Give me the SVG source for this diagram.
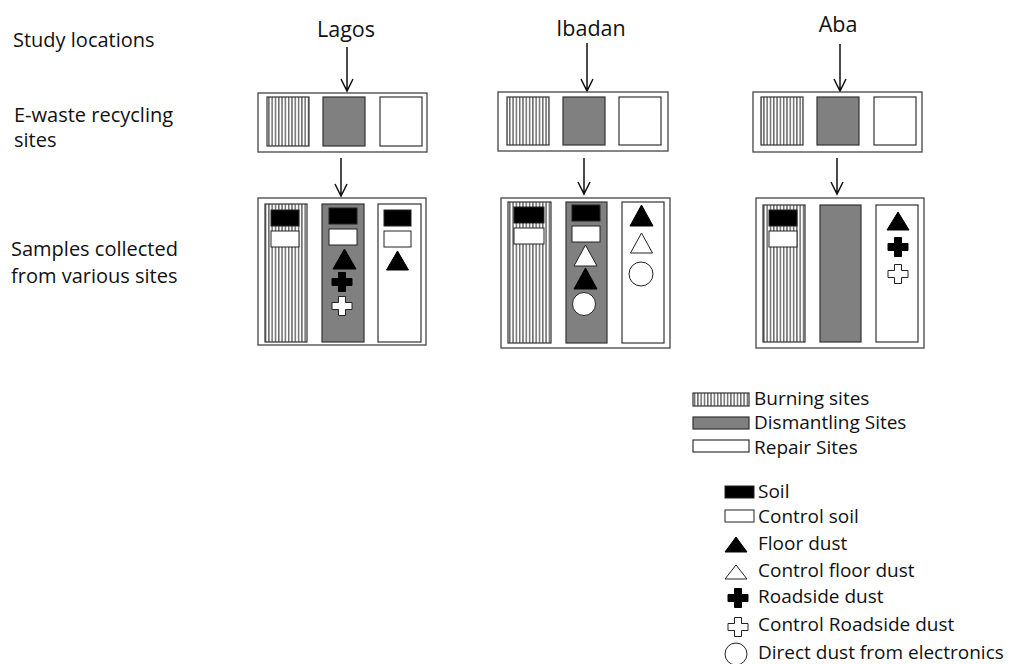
<svg xmlns="http://www.w3.org/2000/svg" width="1015" height="664" viewBox="0 0 1015 664">
<defs>
<pattern id="hatch" patternUnits="userSpaceOnUse" width="3.3" height="10">
<rect width="3.3" height="10" fill="#fff"/>
<line x1="1.6" y1="0" x2="1.6" y2="10" stroke="#222" stroke-width="1"/>
</pattern>
<path id="cross" d="M-3.5,-9.5 h7 v6 h6.5 v7 h-6.5 v6 h-7 v-6 h-6.5 v-7 h6.5 z"/>
</defs>
<style>
text{font-family:"Open Sans","Liberation Sans",sans-serif;fill:#111}
.lbl{font-size:20px}
.loc{font-size:21.5px;text-anchor:middle}
.leg{font-size:19px}
.box{fill:#fff;stroke:#444;stroke-width:1.3}
.h{fill:url(#hatch);stroke:#333;stroke-width:1.2}
.g{fill:#808080;stroke:#333;stroke-width:1.2}
.w{fill:#fff;stroke:#333;stroke-width:1.2}
.b{fill:#000;stroke:#222;stroke-width:1}
.bf{fill:#000;stroke:#000;stroke-width:1}
.wf{fill:#fff;stroke:#222;stroke-width:1}
.arr{fill:none;stroke:#111;stroke-width:1.5}
</style>

<g id="row-labels">
<text class="lbl" x="13" y="47">Study locations</text>
<text class="lbl" x="14" y="122">E-waste recycling</text>
<text class="lbl" x="14" y="147">sites</text>
<text class="lbl" x="11" y="256">Samples collected</text>
<text class="lbl" x="11" y="283">from various sites</text>
</g>

<g id="loc-lagos"><text class="loc" x="346" y="37">Lagos</text></g>
<g id="loc-ibadan"><text class="loc" x="591" y="36">Ibadan</text></g>
<g id="loc-aba"><text class="loc" x="838" y="32">Aba</text></g>

<g id="connectors">
<path class="arr" d="M347,47 V91 M341,79 L347,91 L353,79"/>
<path class="arr" d="M587,43 V91 M581,79 L587,91 L593,79"/>
<path class="arr" d="M840,44 V91 M834,79 L840,91 L846,79"/>
<path class="arr" d="M341,158 V196 M335,184 L341,196 L347,184"/>
<path class="arr" d="M584,158 V194 M578,182 L584,194 L590,182"/>
<path class="arr" d="M837,158 V194 M831,182 L837,194 L843,182"/>
</g>

<g id="sites-lagos">
<rect class="box" x="258" y="93" width="169" height="59"/>
<rect class="h" x="267" y="97" width="42" height="49"/>
<rect class="g" x="323" y="97" width="42" height="49"/>
<rect class="w" x="380" y="97" width="42" height="49"/>
</g>
<g id="sites-ibadan">
<rect class="box" x="498" y="92" width="170" height="59"/>
<rect class="h" x="507" y="97" width="42" height="48"/>
<rect class="g" x="563" y="97" width="42" height="48"/>
<rect class="w" x="619" y="97" width="42" height="48"/>
</g>
<g id="sites-aba">
<rect class="box" x="753" y="92" width="169" height="60"/>
<rect class="h" x="761" y="97" width="42" height="48"/>
<rect class="g" x="817" y="97" width="42" height="48"/>
<rect class="w" x="874" y="97" width="42" height="48"/>
</g>

<g id="samples-lagos">
<rect class="box" x="258" y="198" width="168" height="147"/>
<rect class="h" x="265" y="204" width="42" height="138"/>
<rect class="g" x="322" y="204" width="42" height="138"/>
<rect class="w" x="378" y="204" width="43" height="138"/>
<rect class="b" x="271" y="210" width="28" height="16"/>
<rect class="wf" x="271" y="231" width="28" height="16"/>
<rect class="b" x="329" y="208" width="28" height="16"/>
<rect class="wf" x="329" y="229" width="28" height="16"/>
<polygon class="bf" points="344.5,249 356,269 333,269"/>
<use href="#cross" x="342" y="282" class="bf"/>
<use href="#cross" x="342" y="306" class="wf"/>
<rect class="b" x="384" y="210" width="27" height="16"/>
<rect class="wf" x="384" y="231" width="27" height="16"/>
<polygon class="bf" points="397.5,251 408.5,270 386.5,270"/>
</g>

<g id="samples-ibadan">
<rect class="box" x="501" y="198" width="169" height="150"/>
<rect class="h" x="508" y="202" width="43" height="141"/>
<rect class="g" x="566" y="202" width="41" height="141"/>
<rect class="w" x="622" y="202" width="42" height="141"/>
<rect class="b" x="514" y="207" width="30" height="16"/>
<rect class="wf" x="514" y="228" width="30" height="16"/>
<rect class="b" x="572" y="205" width="28" height="16"/>
<rect class="wf" x="572" y="226" width="28" height="16"/>
<polygon class="wf" points="585.5,245 597,266 574,266"/>
<polygon class="bf" points="585.5,268 597,289 574,289"/>
<circle class="wf" cx="584" cy="304" r="11.5"/>
<polygon class="bf" points="641.5,205 653,226 630,226"/>
<polygon class="wf" points="641.5,233 652.5,253 630.5,253"/>
<circle class="wf" cx="641" cy="274" r="12"/>
</g>

<g id="samples-aba">
<rect class="box" x="756" y="198" width="168" height="150"/>
<rect class="h" x="763" y="205" width="42" height="137"/>
<rect class="g" x="820" y="205" width="41" height="137"/>
<rect class="w" x="876" y="205" width="42" height="137"/>
<rect class="b" x="769" y="210" width="28" height="16"/>
<rect class="wf" x="769" y="231" width="28" height="16"/>
<polygon class="bf" points="898,212 909,230 887,230"/>
<use href="#cross" x="898" y="247" class="bf"/>
<use href="#cross" x="898" y="274" class="wf"/>
</g>

<g id="legend-sites">
<rect class="h" x="693" y="393" width="56" height="13"/>
<text class="leg" x="754" y="404.5">Burning sites</text>
<rect class="g" x="693" y="417" width="56" height="12"/>
<text class="leg" x="754" y="429">Dismantling Sites</text>
<rect class="w" x="693" y="440" width="56" height="12"/>
<text class="leg" x="754" y="453.5">Repair Sites</text>
</g>

<g id="legend-samples">
<rect class="b" x="725" y="486" width="29" height="12"/>
<text class="leg" x="758" y="497.5">Soil</text>
<rect class="wf" x="725" y="510" width="29" height="12"/>
<text class="leg" x="758" y="522.5">Control soil</text>
<polygon class="bf" points="736,537 747,552 725,552"/>
<text class="leg" x="758" y="549.5">Floor dust</text>
<polygon class="wf" points="736,565 747,579 725,579"/>
<text class="leg" x="758" y="577">Control floor dust</text>
<use href="#cross" x="738" y="598" class="bf"/>
<text class="leg" x="758" y="603">Roadside dust</text>
<use href="#cross" x="738" y="627" class="wf"/>
<text class="leg" x="758" y="631">Control Roadside dust</text>
<circle class="wf" cx="736" cy="654" r="11"/>
<text class="leg" x="758" y="659">Direct dust from electronics</text>
</g>
</svg>
